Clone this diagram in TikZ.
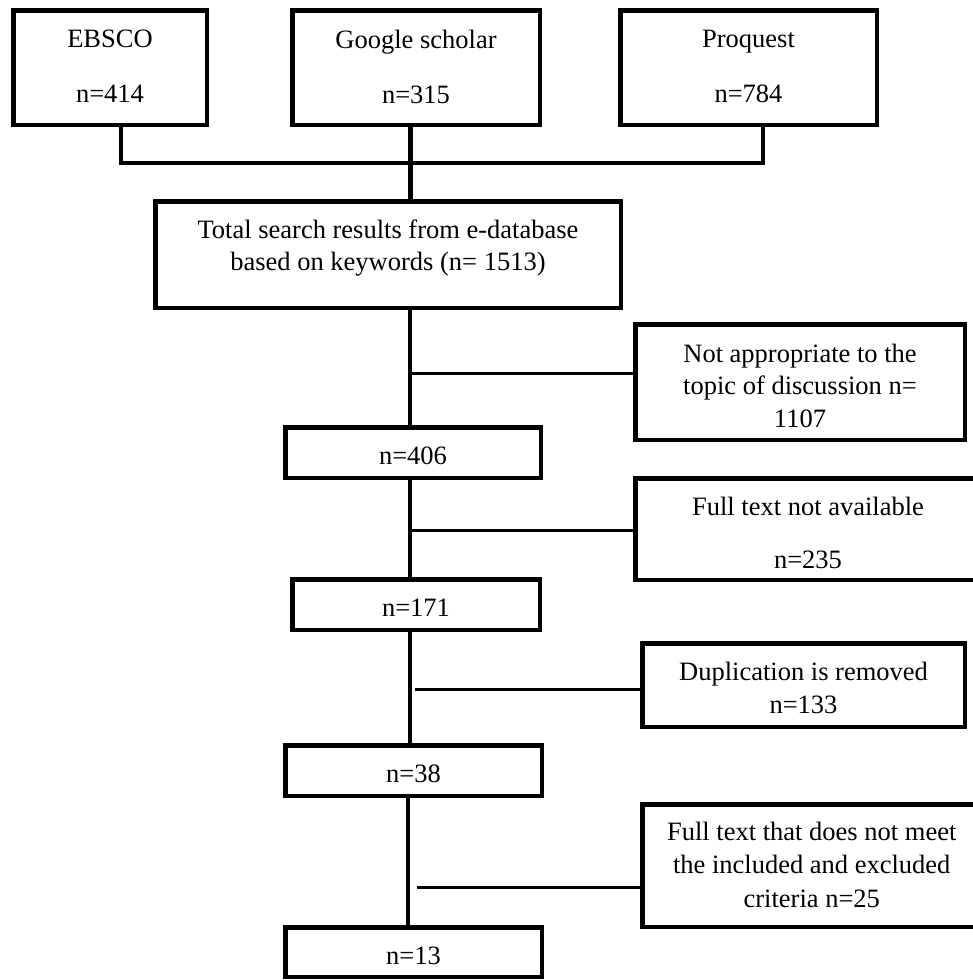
\documentclass[tikz,border=0pt]{standalone}
\usepackage{fontspec}
\setmainfont{Liberation Serif}
\begin{document}
\begin{tikzpicture}[x=1pt,y=-1pt,
  box/.style={draw, line width=4.5pt, rectangle, inner sep=0pt, outer sep=0pt},
  txt/.style={align=center, inner sep=0pt, outer sep=0pt, anchor=north, font=\fontsize{26.5}{33}\selectfont},
  hline/.style={line width=3pt},
  dropline/.style={line width=3.3pt, line join=miter},
  spineline/.style={line width=4.5pt}]
\useasboundingbox[fill=white] (0,0) rectangle (973,980);

% boxes
\node[box, minimum width=193.5pt, minimum height=114.5pt] (ebsco) at (110,67.5) {};
\node[box, minimum width=247.5pt, minimum height=114.5pt] (google) at (416,67.5) {};
\node[box, minimum width=256.5pt, minimum height=114.5pt] (proquest) at (748.5,67.5) {};
\node[box, minimum width=465.5pt, minimum height=106.5pt] (total) at (388,254.5) {};
\node[box, minimum width=329.5pt, minimum height=115.5pt] (notapp) at (800,382) {};
\node[box, minimum width=255.5pt, minimum height=50.5pt] (n406) at (413,452.5) {};
\node[box, minimum width=345.5pt, minimum height=101.5pt] (fullna) at (808,529) {};
\node[box, minimum width=247.5pt, minimum height=50.5pt] (n171) at (416,604.5) {};
\node[box, minimum width=322.5pt, minimum height=83.5pt] (dup) at (803.5,685) {};
\node[box, minimum width=256.5pt, minimum height=50.5pt] (n38) at (413.5,770.5) {};
\node[box, minimum width=339pt, minimum height=122.5pt] (fullcrit) at (811.75,865.5) {};
\node[box, minimum width=256.5pt, minimum height=49.5pt] (n13) at (413.5,952) {};

% texts
\node[txt] (ebsco-t) at (110,30) {EBSCO\\[22pt]n=414};
\node[txt] (google-t) at (416,30) {Google scholar\\[22pt]n=315};
\node[txt] (proquest-t) at (748.5,30) {Proquest\\[22pt]n=784};
\node[txt] (total-t) at (388,220.3) {Total search results from e-database\\[-1.3pt]based on keywords (n= 1513)};
\node[txt] (notapp-t) at (800,343.7) {Not appropriate to the\\[-0.5pt]topic of discussion n=\\[-0.5pt]1107};
\node[txt] (n406-t) at (413,447) {n=406};
\node[txt] (fullna-t) at (808,497) {Full text not available\\[20pt]n=235};
\node[txt] (n171-t) at (416,598.7) {n=171};
\node[txt] (dup-t) at (803.5,662) {Duplication is removed\\n=133};
\node[txt] (n38-t) at (413.5,765.3) {n=38};
\node[txt] (fullcrit-t) at (811.75,822) {Full text that does not meet\\[0.5pt]the included and excluded\\[0.5pt]criteria n=25};
\node[txt] (n13-t) at (413.5,947) {n=13};

% helper coordinates
\coordinate (jl) at (121,163);
\coordinate (jr) at (763,163);
\coordinate (spine) at (410,0);
\coordinate (spinelow) at (408,0);
\coordinate (b1) at (410,373);
\coordinate (b2) at (410,530);
\coordinate (b3) at (415,689);
\coordinate (b4) at (417,887);

% connectors
\draw[dropline] (ebsco.south -| jl) -- (jl) -- (jr) -- (proquest.south -| jr);
\draw[line width=5pt] (google.south -| spine) -- (total.north -| spine);
\draw[spineline] (total.south -| spine) -- (n406.north -| spine);
\draw[spineline] (n406.south -| spine) -- (n171.north -| spine);
\draw[line width=4pt] (n171.south -| spine) -- (n38.north -| spine);
\draw[line width=3.5pt] (n38.south -| spinelow) -- (n13.north -| spinelow);
\draw[hline] (b1) -- (b1 -| notapp.west);
\draw[hline] (b2) -- (b2 -| fullna.west);
\draw[hline] (b3) -- (b3 -| dup.west);
\draw[hline] (b4) -- (b4 -| fullcrit.west);
\end{tikzpicture}
\end{document}
